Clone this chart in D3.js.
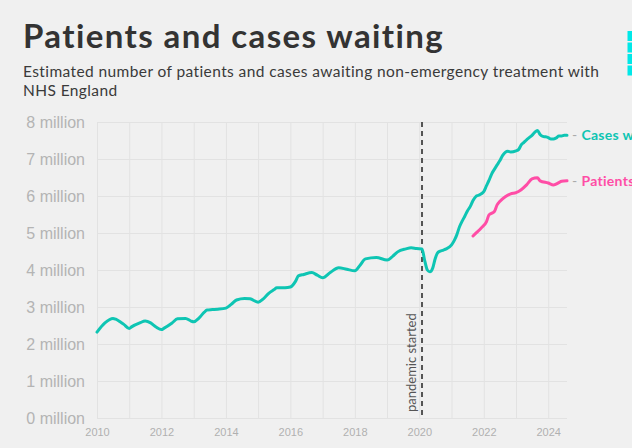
<html lang="en">
<head>
  <meta charset="UTF-8"/>
  <title>Patients and cases waiting</title>
  <script src="https://d3js.org/d3.v7.min.js"></script>
  <style>
body {
  margin: 0;
  background-color: #f0f0f0;
  font-family: 'Lato', sans-serif;
}

svg {
  display: block;
}

text.title {
  font-size: 33px;
  font-weight: 700;
  letter-spacing: 1.4px;
  fill: #333;
}

text.subtitle {
  font-size: 15.5px;
  letter-spacing: 0.4px;
  fill: #3a3a3a;
}

.grid line {
  stroke: #e2e2e2;
  stroke-width: 1;
}

.grid path {
  stroke-width: 0;
}

.yaxis text {
  font-size: 16px;
  fill: #b4b4b4;
}

.xaxis text {
  font-size: 11px;
  fill: #b0b0b0;
}

.axis path, .axis line {
  display: none;
}

line#pandemic {
  stroke: #555;
  stroke-width: 2;
  stroke-dasharray: 5 4;
}

text.note {
  font-size: 13px;
  fill: #555;
}

text.label {
  font-size: 14px;
  font-weight: 700;
  letter-spacing: 0.3px;
}
  </style>
</head>
<body>
  <svg width="632" height="448"></svg>
<script>

// cases waiting (millions)
const caseDates = [
  '2010-01', '2010-04', '2010-07', '2010-08', '2010-10', '2010-11', '2011-01', '2011-02', '2011-05', '2011-07',
  '2011-09', '2011-11', '2012-01', '2012-02', '2012-05', '2012-07', '2012-10', '2012-12', '2013-01', '2013-03',
  '2013-05', '2013-06', '2013-08', '2013-10', '2014-01', '2014-03', '2014-05', '2014-08', '2014-10', '2015-01',
  '2015-03', '2015-05', '2015-07', '2015-08', '2015-11', '2016-01', '2016-03', '2016-04', '2016-06', '2016-09',
  '2016-11', '2017-01', '2017-04', '2017-07', '2017-10', '2018-01', '2018-03', '2018-05', '2018-09', '2019-01',
  '2019-03', '2019-05', '2019-08', '2019-10', '2019-12', '2020-02', '2020-03', '2020-04', '2020-05', '2020-06',
  '2020-07', '2020-08', '2020-10', '2020-11', '2021-01', '2021-02', '2021-03', '2021-04', '2021-05', '2021-06',
  '2021-07', '2021-08', '2021-09', '2021-10', '2021-11', '2022-01', '2022-02', '2022-03', '2022-04', '2022-05',
  '2022-06', '2022-07', '2022-08', '2022-09', '2022-10', '2022-11', '2023-01', '2023-02', '2023-03', '2023-04',
  '2023-05', '2023-06', '2023-07', '2023-08', '2023-09', '2023-10', '2023-11', '2023-12', '2024-01', '2024-02',
  '2024-03', '2024-04', '2024-05', '2024-06', '2024-07', '2024-08'
];
const caseValues = [
  2.32, 2.57, 2.69, 2.67, 2.58, 2.53, 2.42, 2.47, 2.57, 2.62,
  2.57, 2.46, 2.39, 2.43, 2.57, 2.68, 2.69, 2.62, 2.60, 2.70,
  2.86, 2.92, 2.93, 2.94, 2.97, 3.07, 3.19, 3.23, 3.22, 3.13,
  3.22, 3.37, 3.47, 3.52, 3.52, 3.54, 3.70, 3.84, 3.88, 3.93,
  3.86, 3.79, 3.94, 4.06, 4.02, 3.98, 4.13, 4.30, 4.34, 4.27,
  4.36, 4.49, 4.57, 4.60, 4.58, 4.57, 4.27, 4.00, 3.95, 4.05,
  4.32, 4.48, 4.54, 4.57, 4.68, 4.80, 4.95, 5.17, 5.32, 5.46,
  5.60, 5.72, 5.88, 5.98, 6.02, 6.12, 6.28, 6.42, 6.60, 6.72,
  6.84, 6.95, 7.09, 7.18, 7.21, 7.19, 7.22, 7.26, 7.38, 7.45,
  7.52, 7.58, 7.64, 7.72, 7.77, 7.66, 7.61, 7.60, 7.58, 7.54,
  7.54, 7.57, 7.62, 7.62, 7.64, 7.64
];

// patients waiting (millions)
const patientDates = [
  '2021-09', '2021-10', '2021-12', '2022-02', '2022-03', '2022-05', '2022-06', '2022-07', '2022-09', '2022-11',
  '2023-01', '2023-03', '2023-05', '2023-07', '2023-09', '2023-10', '2024-01', '2024-03', '2024-05', '2024-06',
  '2024-08'
];
const patientValues = [
  4.92, 4.99, 5.13, 5.31, 5.49, 5.58, 5.76, 5.85, 5.98, 6.06,
  6.09, 6.17, 6.30, 6.46, 6.49, 6.41, 6.35, 6.30, 6.36, 6.40,
  6.41
];

const yTicks = [0, 1, 2, 3, 4, 5, 6, 7, 8];
const xTickYears = [2010, 2012, 2014, 2016, 2018, 2020, 2022, 2024];
const pandemicDate = '2020-02';

const parse = d3.timeParse('%Y-%m');
const cases = caseDates.map((d, i) => ({ date: parse(d), value: caseValues[i] }));
const patients = patientDates.map((d, i) => ({ date: parse(d), value: patientValues[i] }));

const svg = d3.select('svg');

const plotLeft = 97, plotRight = 567, plotTop = 122, plotBottom = 418;

const xScale = d3.scaleTime()
  .domain([parse('2010-01'), parse('2024-08')])
  .range([plotLeft, plotRight]);

const yScale = d3.scaleLinear()
  .domain([0, 8])
  .range([plotBottom, plotTop]);

// title + subtitle
svg.append('text')
  .attr('class', 'title')
  .attr('x', 23)
  .attr('y', 48)
  .text('Patients and cases waiting');

svg.append('text')
  .attr('class', 'subtitle')
  .attr('x', 23)
  .attr('y', 77)
  .text('Estimated number of patients and cases awaiting non-emergency treatment with');

svg.append('text')
  .attr('class', 'subtitle')
  .attr('x', 23)
  .attr('y', 96)
  .text('NHS England');

// cyan marks top right (cut off)
svg.selectAll('rect.mark')
  .data([0, 1, 2, 3])
  .enter()
  .append('rect')
  .attr('class', 'mark')
  .attr('x', 627.5)
  .attr('y', (d) => 31 + d * 11.5)
  .attr('width', 6)
  .attr('height', 10)
  .attr('fill', '#00e8e8');

// grid
svg.append('g')
  .attr('class', 'grid')
  .attr('transform', `translate(0, ${plotBottom})`)
  .call(d3.axisBottom(xScale)
    .ticks(d3.timeYear.every(1))
    .tickSize(-(plotBottom - plotTop))
    .tickFormat('')
  );

svg.append('g')
  .attr('class', 'grid')
  .attr('transform', `translate(${plotLeft}, 0)`)
  .call(d3.axisLeft(yScale)
    .tickValues(yTicks)
    .tickSize(-(plotRight - plotLeft))
    .tickFormat('')
  );

// axes labels
svg.append('g')
  .attr('class', 'axis yaxis')
  .attr('transform', `translate(${plotLeft}, 0)`)
  .call(d3.axisLeft(yScale)
    .tickValues(yTicks)
    .tickSize(0)
    .tickPadding(12)
    .tickFormat((d) => `${d} million`)
  );

svg.append('g')
  .attr('class', 'axis xaxis')
  .attr('transform', `translate(0, ${plotBottom})`)
  .call(d3.axisBottom(xScale)
    .tickValues(xTickYears.map((y) => new Date(y, 0, 1)))
    .tickSize(0)
    .tickPadding(10)
    .tickFormat(d3.timeFormat('%Y'))
  );

// pandemic marker
const px = xScale(parse(pandemicDate));
svg.append('line')
  .attr('id', 'pandemic')
  .attr('x1', px)
  .attr('x2', px)
  .attr('y1', plotTop)
  .attr('y2', plotBottom);

svg.append('text')
  .attr('class', 'note')
  .attr('transform', `translate(${px - 6}, ${plotBottom - 6}) rotate(-90)`)
  .attr('text-anchor', 'start')
  .text('pandemic started');

// lines
const line = d3.line()
  .x((d) => xScale(d.date))
  .y((d) => yScale(d.value))
  .curve(d3.curveMonotoneX);

const series = [
  { name: 'Cases waiting', data: cases, color: '#0ec5b3' },
  { name: 'Patients waiting', data: patients, color: '#ff4da6' }
];

series.forEach((s) => {
  svg.append('path')
    .datum(s.data)
    .attr('fill', 'none')
    .attr('stroke', s.color)
    .attr('stroke-width', 3)
    .attr('stroke-linejoin', 'round')
    .attr('stroke-linecap', 'round')
    .attr('d', line);

  // label runs past the window edge, as in the original
  const last = s.data[s.data.length - 1];
  const lab = svg.append('text')
    .attr('class', 'label')
    .attr('x', plotRight + 5)
    .attr('y', yScale(last.value))
    .attr('dy', '0.35em');
  lab.append('tspan')
    .attr('fill', '#aaa')
    .attr('font-weight', 400)
    .text('- ');
  lab.append('tspan')
    .attr('fill', s.color)
    .text(s.name);
});

</script>
</body>
</html>
